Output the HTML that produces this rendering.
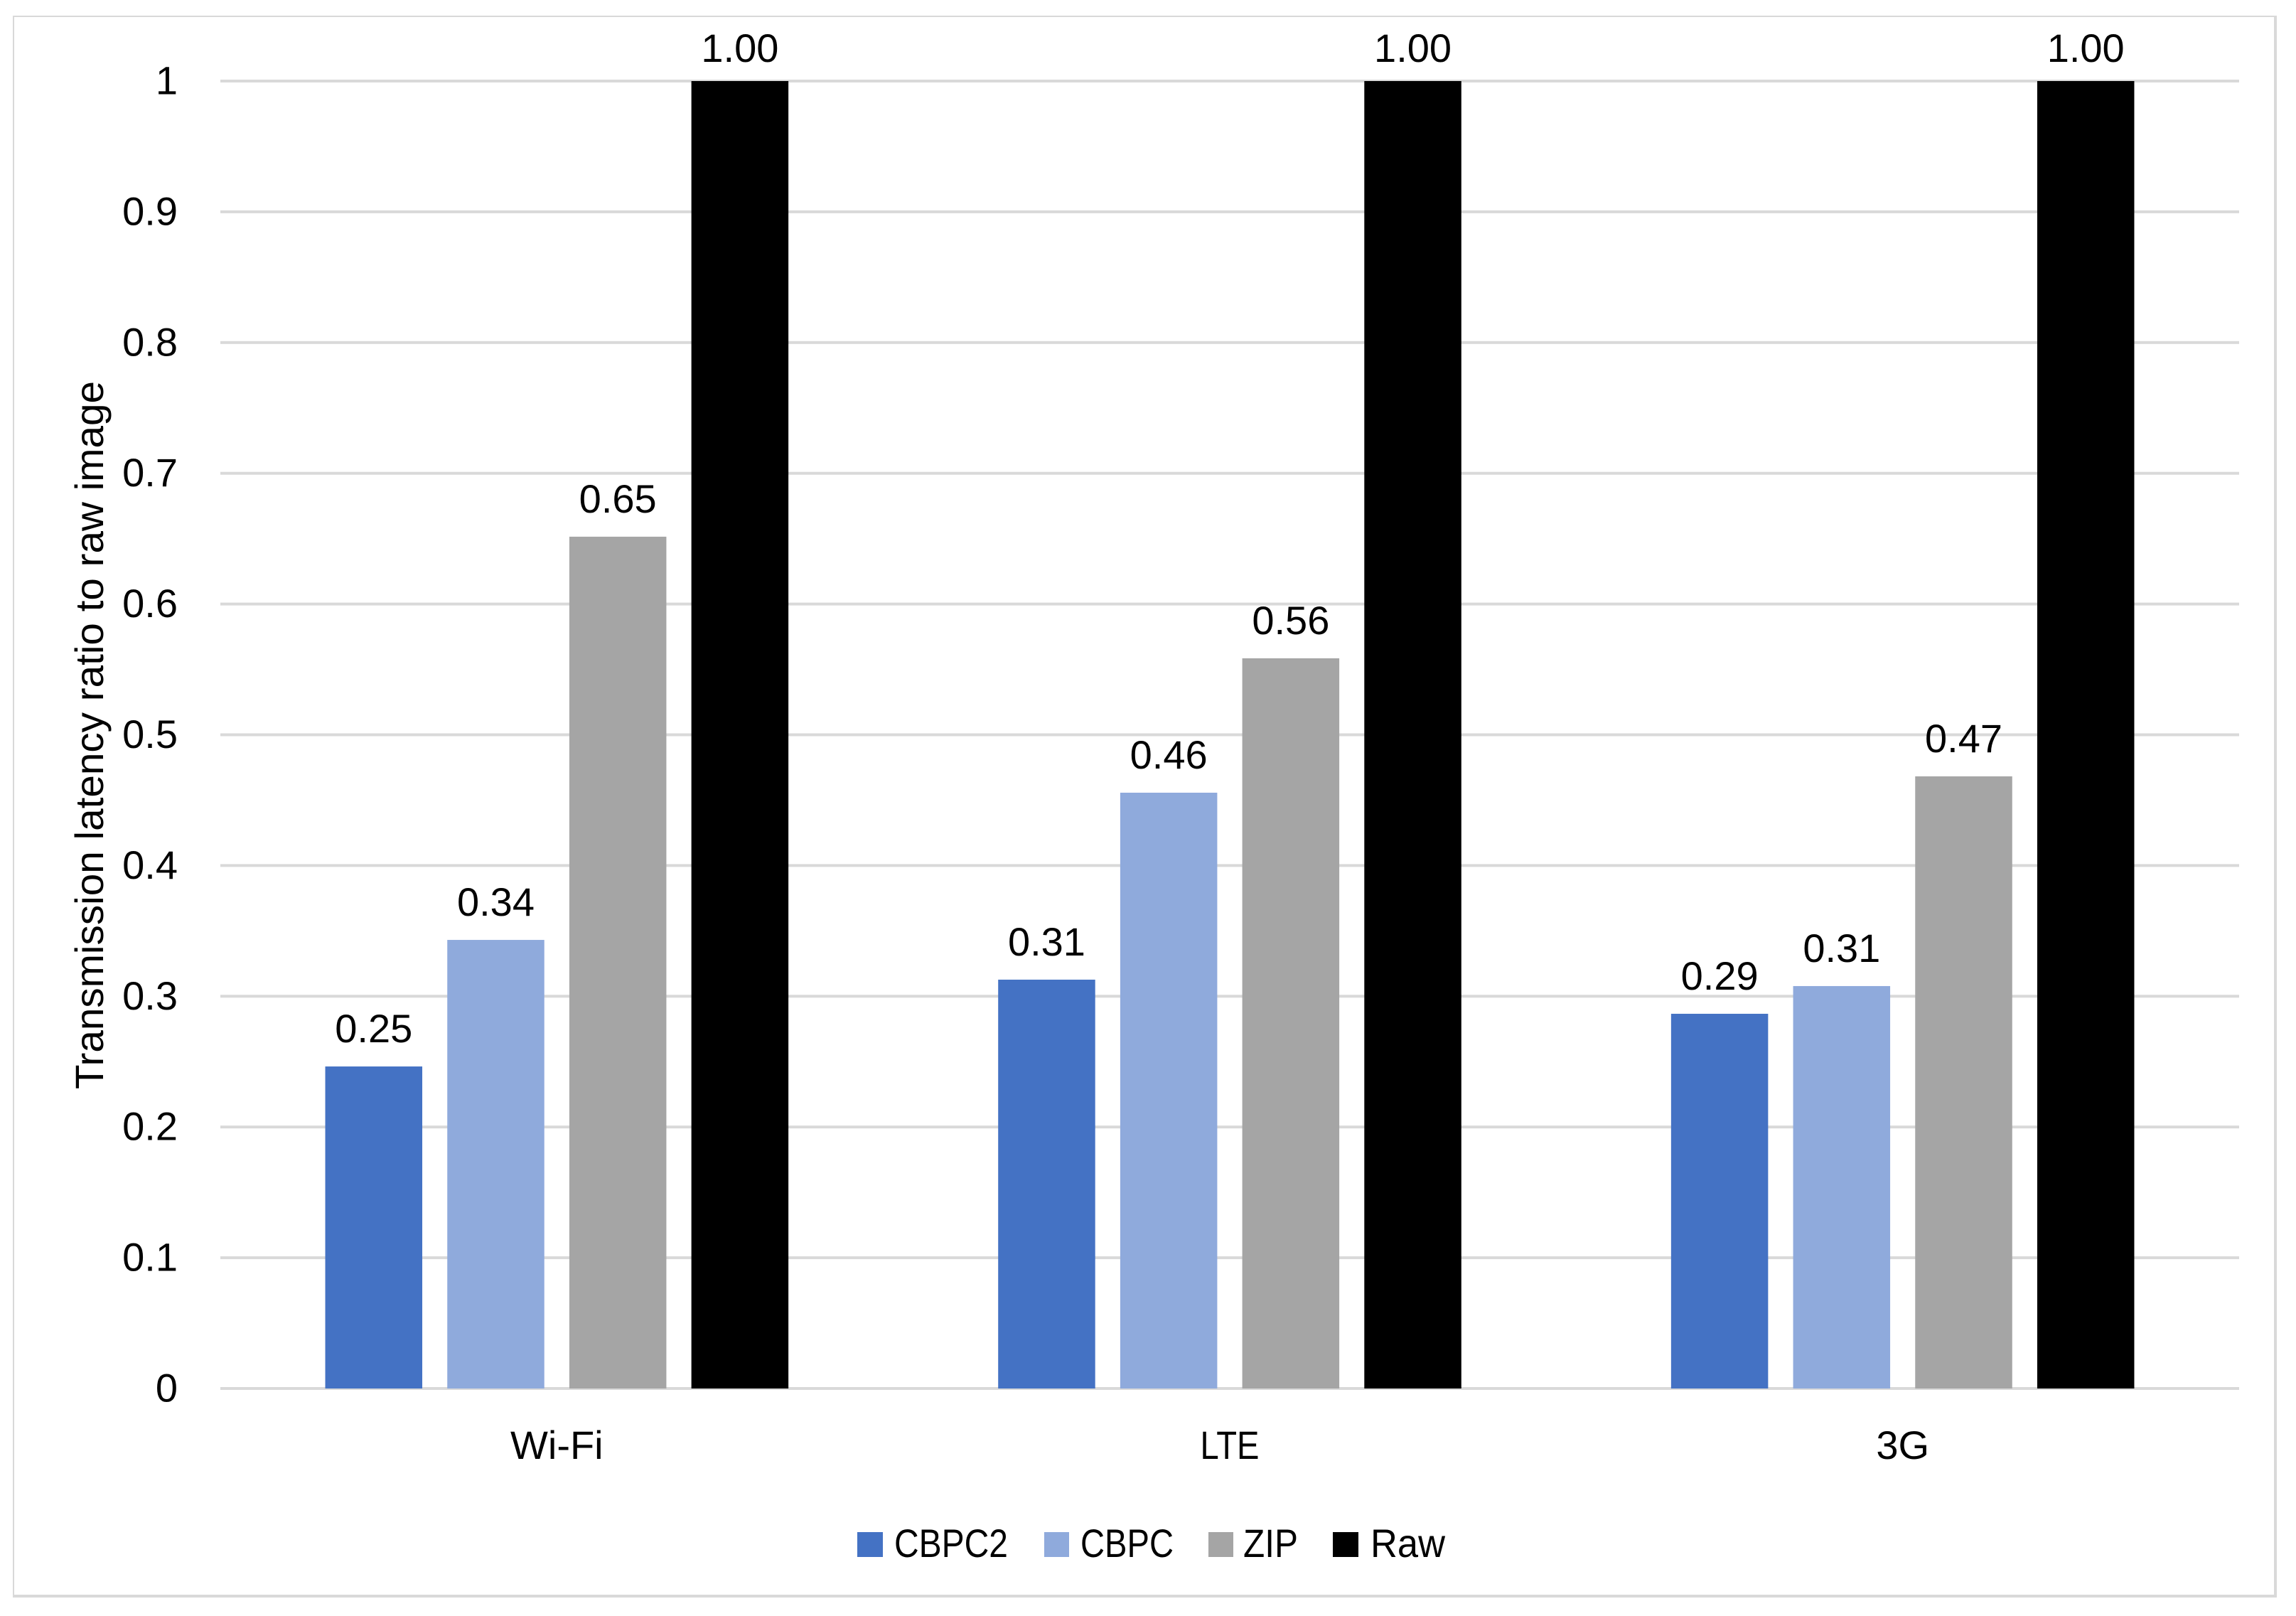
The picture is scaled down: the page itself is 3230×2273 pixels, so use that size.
<!DOCTYPE html>
<html lang="en">
<head>
<meta charset="utf-8">
<title>Transmission latency ratio to raw image</title>
<style>
html,body{margin:0;padding:0;background:#fff;width:3230px;height:2273px;overflow:hidden}
svg{display:block}
text{font-family:"Liberation Sans",sans-serif;font-size:56px;fill:#000}
</style>
</head>
<body>
<svg id="chart" xmlns="http://www.w3.org/2000/svg" width="3230" height="2273" viewBox="0 0 3230 2273">
  <rect x="0" y="0" width="3230" height="2273" fill="#ffffff"/>
  <rect x="18" y="22" width="2" height="2225" fill="#d9d9d9"/>
  <rect x="18" y="22" width="3185" height="2" fill="#d9d9d9"/>
  <rect x="3199" y="22" width="4" height="2225" fill="#d9d9d9"/>
  <rect x="18" y="2243" width="3185" height="4" fill="#d9d9d9"/>
  <g id="grid"></g>
  <g id="yticks"></g>
  <g id="bars"></g>
  <g id="labels"></g>
  <g id="xticks"></g>
  <text transform="translate(145,1532) rotate(-90)" textLength="996" lengthAdjust="spacingAndGlyphs">Transmission latency ratio to raw image</text>
  <g id="legend">
    <rect x="1206" y="2155" width="36" height="35" fill="#4472c4"/>
    <text x="1258" y="2190" textLength="160" lengthAdjust="spacingAndGlyphs">CBPC2</text>
    <rect x="1469" y="2155" width="35" height="35" fill="#8faadc"/>
    <text x="1520" y="2190" textLength="131" lengthAdjust="spacingAndGlyphs">CBPC</text>
    <rect x="1700" y="2155" width="35" height="35" fill="#a5a5a5"/>
    <text x="1749" y="2190" textLength="77" lengthAdjust="spacingAndGlyphs">ZIP</text>
    <rect x="1875" y="2155" width="36" height="35" fill="#000000"/>
    <text x="1928" y="2190" textLength="105" lengthAdjust="spacingAndGlyphs">Raw</text>
  </g>
</svg>
<script>
var categories = ['Wi-Fi', 'LTE', '3G'];
var seriesNames = ['CBPC2', 'CBPC', 'ZIP', 'Raw'];
var cbpc2Values = [0.2463, 0.3127, 0.2866];
var cbpcValues = [0.3431, 0.4557, 0.3078];
var zipValues = [0.6515, 0.5585, 0.4682];
var rawValues = [1, 1, 1];
var yTickValues = [0, 0.1, 0.2, 0.3, 0.4, 0.5, 0.6, 0.7, 0.8, 0.9, 1];
var seriesColors = ['#4472c4', '#8faadc', '#a5a5a5', '#000000'];

var allSeries = [cbpc2Values, cbpcValues, zipValues, rawValues];
var NS = 'http://www.w3.org/2000/svg';
var plotLeft = 310, plotRight = 3150, plotTop = 114, plotBottom = 1953;
var barWidth = 136.5, barPitch = 171.7;

function yScale(v) { return plotBottom - v * (plotBottom - plotTop); }
function bandCenter(i) { return plotLeft + (i + 0.5) * (plotRight - plotLeft) / categories.length; }
function make(tag, parent, attrs, txt) {
  var el = document.createElementNS(NS, tag);
  for (var k in attrs) el.setAttribute(k, attrs[k]);
  if (txt !== undefined) el.textContent = txt;
  parent.appendChild(el);
  return el;
}
function slug(s) { return s.toLowerCase().replace(/[^a-z0-9]+/g, '-'); }

var gridG = document.getElementById('grid');
var ytickG = document.getElementById('yticks');
var barsG = document.getElementById('bars');
var labelsG = document.getElementById('labels');
var xtickG = document.getElementById('xticks');

yTickValues.forEach(function (t) {
  var y = yScale(t);
  var line = make('rect', gridG, { x: plotLeft, y: y - 2, width: plotRight - plotLeft, height: 4, fill: '#d9d9d9' });
  
  
  var label = make('text', ytickG, { x: 250, y: y + 18.5, 'text-anchor': 'end' }, String(t));
  
  
});

categories.forEach(function (cat, c) {
  var cx = bandCenter(c);
  var tick = make('text', xtickG, { x: cx, y: 2052, 'text-anchor': 'middle' }, cat);
  if (cat === 'LTE') {
    tick.setAttribute('textLength', '83');
    tick.setAttribute('lengthAdjust', 'spacingAndGlyphs');
  }
  
  
  allSeries.forEach(function (vals, s) {
    var v = vals[c];
    var top = yScale(v);
    var bx = cx + (s - 1.5) * barPitch;
    var bar = make('rect', barsG, { x: bx - barWidth / 2, y: top, width: barWidth, height: plotBottom - top, fill: seriesColors[s] });
    
    
    var lab = make('text', labelsG, { x: bx, y: Math.max(87, top - 34), 'text-anchor': 'middle' }, v.toFixed(2));
    
    
  });
});
</script>
</body>
</html>
